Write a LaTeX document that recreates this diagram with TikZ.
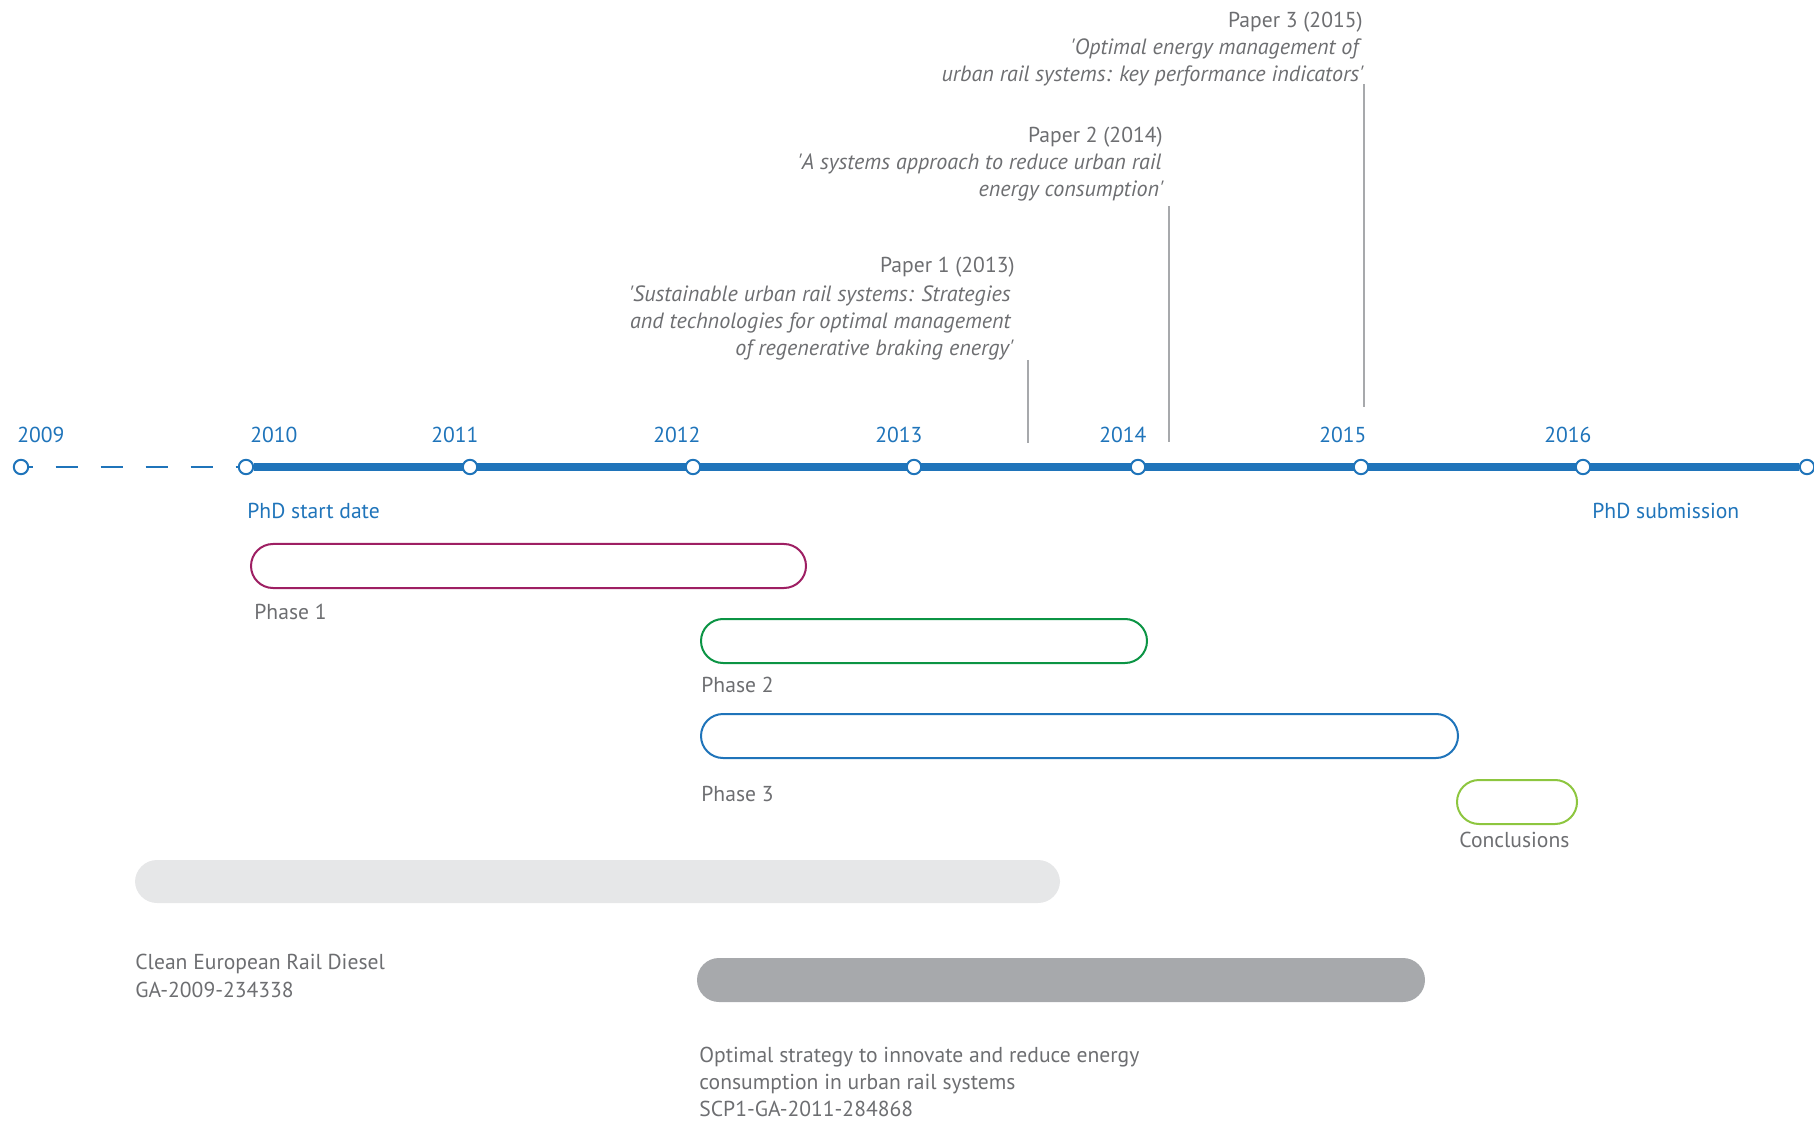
\documentclass[tikz,border=0pt]{standalone}
\usepackage{fontspec}
\setmainfont{PT Sans}
\usetikzlibrary{backgrounds}
\definecolor{tlblue}{HTML}{1F74BA}
\definecolor{txtgray}{HTML}{6D6E71}
\definecolor{linegray}{HTML}{A7A9AC}
\definecolor{phaseone}{HTML}{9E1F63}
\definecolor{phasetwo}{HTML}{0B9444}
\definecolor{concl}{HTML}{8DC63F}
\definecolor{lightbar}{HTML}{E6E7E8}
\definecolor{darkbar}{HTML}{A7A9AC}
\begin{document}
\begin{tikzpicture}[x=0.5pt,y=-0.5pt,
  basefont/.style={font=\fontsize{10.8}{13.5}\selectfont},
  yearlbl/.style={basefont, text=tlblue, inner sep=0, anchor=base west},
  tick/.style={circle, draw=tlblue, fill=white, line width=1pt, minimum size=7.2pt, inner sep=0},
  ptitle/.style={basefont, text=txtgray, inner sep=0, anchor=base east},
  pquote/.style={ptitle, font=\fontsize{11.05}{13.5}\selectfont\itshape},
  glabel/.style={basefont, text=txtgray, inner sep=0, anchor=base west},
  leader/.style={draw=linegray, line width=0.9pt},
  phasebar/.style={rectangle, rounded corners=11pt, line width=1pt, minimum height=22pt, inner sep=0},
  projbar/.style={rectangle, rounded corners=11pt, minimum height=21.5pt, inner sep=0}
]
\useasboundingbox (0,0) rectangle (1814,1122);

% timeline ticks
\node[tick] (t2009) at (21,467) {};
\node[tick] (t2010) at (246,467) {};
\node[tick] (t2011) at (470,467) {};
\node[tick] (t2012) at (693,467) {};
\node[tick] (t2013) at (914,467) {};
\node[tick] (t2014) at (1138,467) {};
\node[tick] (t2015) at (1361,467) {};
\node[tick] (t2016) at (1583,467) {};
\node[tick] (tend) at (1807,467) {};

\begin{scope}[on background layer]
  \draw[tlblue, line width=1.1pt, dash pattern=on 11pt off 11.5pt, dash phase=9.25pt] (t2009) -- (t2010);
  \draw[tlblue, line width=3.6pt] (t2010) -- (tend);
\end{scope}

% year labels
\node[yearlbl] (y2009) at (17,443) {2009};
\node[yearlbl] (y2010) at (250,443) {2010};
\node[yearlbl] (y2011) at (431,443) {2011};
\node[yearlbl] (y2012) at (653,443) {2012};
\node[yearlbl] (y2013) at (875,443) {2013};
\node[yearlbl] (y2014) at (1099,443) {2014};
\node[yearlbl] (y2015) at (1319,443) {2015};
\node[yearlbl] (y2016) at (1544,443) {2016};

\node[yearlbl] (start) at (247,518) {PhD start date};
\node[yearlbl] (submit) at (1592,518) {PhD submission};

% papers
\node[ptitle] (p3a) at (1363,28) {Paper 3 (2015)};
\node[pquote] (p3b) at (1359,55) {\textquotesingle Optimal energy management of};
\node[pquote] (p3c) at (1364,82) {urban rail systems: key performance indicators\textquotesingle};
\coordinate (p3top) at (1364,84);
\coordinate (p3bot) at (1364,407);
\draw[leader] (p3top) -- (p3bot);

\node[ptitle] (p2a) at (1163,143) {Paper 2 (2014)};
\node[pquote] (p2b) at (1162,170) {\textquotesingle A systems approach to reduce urban rail};
\node[pquote] (p2c) at (1164,197) {energy consumption\textquotesingle};
\coordinate (p2top) at (1169,206);
\coordinate (p2bot) at (1169,442);
\draw[leader] (p2top) -- (p2bot);

\node[ptitle] (p1a) at (1015,273) {Paper 1 (2013)};
\node[pquote] (p1b) at (1011,302) {\textquotesingle Sustainable urban rail systems: Strategies};
\node[pquote] (p1c) at (1011,329) {and technologies for optimal management};
\node[pquote] (p1d) at (1014,356) {of regenerative braking energy\textquotesingle};
\coordinate (p1top) at (1028,360);
\coordinate (p1bot) at (1028,443);
\draw[leader] (p1top) -- (p1bot);

% phases
\node[phasebar, draw=phaseone, minimum width=277.5pt] (ph1) at (528.5,566) {};
\node[glabel] (ph1l) at (254,619) {Phase 1};
\node[phasebar, draw=phasetwo, minimum width=223pt] (ph2) at (924,641) {};
\node[glabel] (ph2l) at (701,692) {Phase 2};
\node[phasebar, draw=tlblue, minimum width=378.5pt] (ph3) at (1079.5,736) {};
\node[glabel] (ph3l) at (701,801) {Phase 3};
\node[phasebar, draw=concl, minimum width=60pt] (ph4) at (1517,802) {};
\node[glabel] (ph4l) at (1459,847) {Conclusions};

% projects
\node[projbar, fill=lightbar, minimum width=462.5pt] (cleaner) at (597.5,881.5) {};
\node[glabel] (cleanA) at (135,969) {Clean European Rail Diesel};
\node[glabel] (cleanB) at (135,997) {GA-2009-234338};
\node[projbar, fill=darkbar, minimum width=364pt, minimum height=22pt] (osiris) at (1061,980) {};
\node[glabel] (osA) at (699,1062) {Optimal strategy to innovate and reduce energy};
\node[glabel] (osB) at (699,1089) {consumption in urban rail systems};
\node[glabel] (osC) at (699,1116) {SCP1-GA-2011-284868};
\end{tikzpicture}
\end{document}
